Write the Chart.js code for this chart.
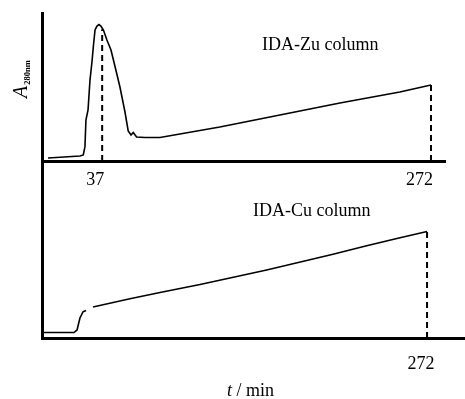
<!DOCTYPE html>
<html>
<head>
<meta charset="utf-8">
<script src="https://cdn.jsdelivr.net/npm/chart.js@4/dist/chart.umd.min.js"></script>
<style>
  html, body { margin: 0; padding: 0; background: #fff; }
  body { width: 465px; height: 399px; position: relative; overflow: hidden; }
  .box { position: absolute; left: 0; }
  canvas { display: block; }
</style>
</head>
<body>
<div class="box" style="top:0px;width:465px;height:200px;"><canvas id="top" width="465" height="200"></canvas></div>
<div class="box" style="top:160px;width:465px;height:239px;"><canvas id="bot" width="465" height="239"></canvas></div>
<script>
// ---- data (time in min, absorbance in relative units) ----
const tTop = [-1.7, 12.6, 21.1, 23.5, 24.7, 25.4, 26.9, 28.3, 29.7, 30.8, 31.9, 33.3, 34.7, 36.1, 37.9, 40.4, 43.3, 46.1, 49.7, 53.3, 55.6, 57.6, 59.2, 61.6, 67.6, 78.3, 121.1, 164.0, 206.9, 249.7, 272];
const aTop = [0.020, 0.029, 0.034, 0.041, 0.097, 0.277, 0.345, 0.547, 0.669, 0.784, 0.885, 0.912, 0.922, 0.912, 0.885, 0.818, 0.750, 0.642, 0.500, 0.331, 0.203, 0.176, 0.193, 0.162, 0.159, 0.159, 0.230, 0.311, 0.392, 0.466, 0.514];
const tBot = [-5.3, 17.1, 19.3, 21.4, 23.6, 25.8, 27.5, 30.8, 57.5, 79.2, 108.1, 156.2, 204.1, 228.4, 252.5, 272];
const aBot = [0.037, 0.037, 0.054, 0.135, 0.176, 0.186, null, 0.209, 0.264, 0.307, 0.361, 0.459, 0.564, 0.622, 0.676, 0.718];
const topTicks = [37, 272];
const topMarkLevels = [0.89, 0.514];
const botTicks = [272];
const botMarkLevels = [0.718];
const topTitle = 'IDA-Zu column';
const botTitle = 'IDA-Cu column';

const SERIF = "'Liberation Serif', 'Times New Roman', Times, serif";

function pts(xs, ys) { return xs.map((x, i) => ({ x: x, y: ys[i] })); }
function markSets(times, levels) {
  return times.map((t, i) => ({
    data: [{ x: t, y: 0 }, { x: t, y: levels[i] }],
    borderColor: '#000', borderWidth: 2, borderDash: [6, 4],
    pointRadius: 0, fill: false
  }));
}

const textPlugin = {
  id: 'texts',
  afterDraw(chart, args, opts) {
    const ctx = chart.ctx;
    ctx.save();
    ctx.fillStyle = '#000';
    ctx.textBaseline = 'alphabetic';
    ctx.textAlign = 'left';
    (opts.items || []).forEach(it => {
      if (it.type === 'ylabel') {
        ctx.save();
        ctx.translate(it.x, it.y);
        ctx.rotate(-Math.PI / 2);
        ctx.font = 'italic 20px ' + SERIF;
        ctx.fillText('A', 0, 0);
        const w = ctx.measureText('A').width;
        ctx.font = 'bold 8.5px ' + SERIF;
        ctx.fillText('280nm', w + 1, 3);
        ctx.restore();
      } else if (it.type === 'xlabel') {
        ctx.font = 'italic 18px ' + SERIF;
        ctx.fillText('t', it.x, it.y);
        const w = ctx.measureText('t').width;
        ctx.font = '18px ' + SERIF;
        ctx.fillText(' / min', it.x + w, it.y);
      } else {
        ctx.font = '18px ' + SERIF;
        ctx.fillText(it.text, it.x, it.y);
      }
    });
    ctx.restore();
  }
};

function baseOptions(cfg) {
  return {
    responsive: false,
    animation: false,
    devicePixelRatio: 1,
    layout: { padding: cfg.padding },
    plugins: { legend: { display: false }, tooltip: { enabled: false }, texts: { items: cfg.items } },
    elements: { line: { tension: 0 } },
    scales: {
      x: {
        type: 'linear', min: cfg.xmin, max: cfg.xmax,
        grid: { display: false, drawTicks: false },
        border: { display: true, width: 3, color: '#000' },
        afterBuildTicks: s => { s.ticks = cfg.ticks.map(v => ({ value: v })); },
        afterFit: s => { s.height = cfg.xh; },
        ticks: {
          autoSkip: false, maxRotation: 0, color: '#000',
          font: { family: SERIF, size: 18 },
          padding: cfg.tickPad, align: cfg.align, labelOffset: cfg.labelOffset
        }
      },
      y: {
        min: 0, max: cfg.ymax,
        grid: { display: false, drawTicks: false },
        border: { display: true, width: 3, color: '#000' },
        ticks: { display: false },
        afterFit: s => { s.width = 42; }
      }
    }
  };
}

new Chart(document.getElementById('top'), {
  type: 'line',
  data: {
    datasets: [{
      data: pts(tTop, aTop), borderColor: '#000', borderWidth: 1.6, pointRadius: 0, fill: false
    }].concat(markSets(topTicks, topMarkLevels))
  },
  options: baseOptions({
    padding: { top: 13, right: 20, left: 0, bottom: 0 },
    xmin: -6, xmax: 282, ymax: 1, xh: 39, ticks: topTicks,
    tickPad: 8, align: 'end', labelOffset: 2,
    items: [
      { type: 'ylabel', x: 27, y: 98 },
      { type: 'text', text: topTitle, x: 262, y: 50 }
    ]
  }),
  plugins: [textPlugin]
});

new Chart(document.getElementById('bot'), {
  type: 'line',
  data: {
    datasets: [{
      data: pts(tBot, aBot), borderColor: '#000', borderWidth: 1.6, pointRadius: 0, fill: false, spanGaps: false
    }].concat(markSets(botTicks, botMarkLevels))
  },
  options: baseOptions({
    padding: { top: 0, right: 0, left: 0, bottom: 0 },
    xmin: -6, xmax: 299.4, ymax: 1.2, xh: 61, ticks: botTicks,
    tickPad: 15, align: 'center', labelOffset: -6,
    items: [
      { type: 'text', text: botTitle, x: 253, y: 56 },
      { type: 'xlabel', x: 227, y: 236 }
    ]
  }),
  plugins: [textPlugin]
});
</script>
</body>
</html>
